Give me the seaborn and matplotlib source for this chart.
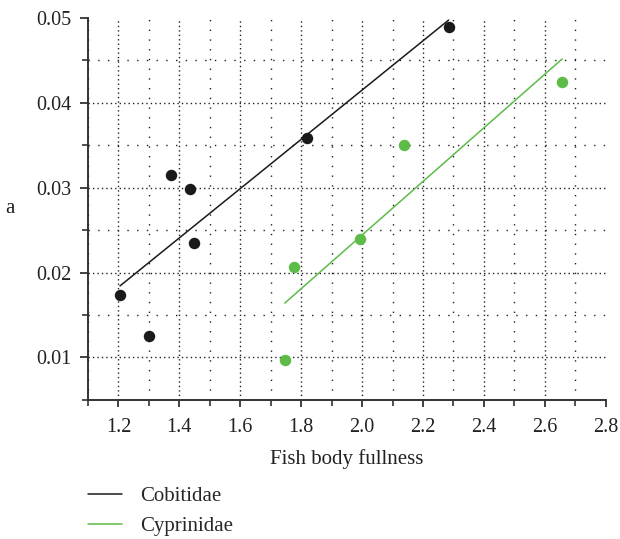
import pandas as pd
import numpy as np
import seaborn as sns
import matplotlib.pyplot as plt
from matplotlib.ticker import MultipleLocator
from matplotlib.lines import Line2D

# values
cobitidae_x = [1.205, 1.30, 1.372, 1.434, 1.447, 1.818, 2.284]
cobitidae_a = [0.0174, 0.0125, 0.0315, 0.0298, 0.02345, 0.0358, 0.0489]
cyprinidae_x = [1.746, 1.775, 1.992, 2.136, 2.657]
cyprinidae_a = [0.00965, 0.0207, 0.0240, 0.0350, 0.0424]

families = ['Cobitidae', 'Cyprinidae']
colors = {'Cobitidae': '#1a1a1a', 'Cyprinidae': '#5dbb47'}
x_ticks = [1.2, 1.4, 1.6, 1.8, 2.0, 2.2, 2.4, 2.6, 2.8]
y_ticks = [0.01, 0.02, 0.03, 0.04, 0.05]

df = pd.concat([
    pd.DataFrame({'fullness': cobitidae_x, 'a': cobitidae_a, 'family': 'Cobitidae'}),
    pd.DataFrame({'fullness': cyprinidae_x, 'a': cyprinidae_a, 'family': 'Cyprinidae'}),
])

sns.set_style('white')
plt.rcParams['font.family'] = ['Liberation Serif', 'DejaVu Serif']

fig = plt.figure(figsize=(6.2, 5.39), dpi=100)
ax = fig.add_axes([0.142, 0.258, 0.835, 0.709])

for fam in families:
    sub = df[df['family'] == fam]
    sns.regplot(data=sub, x='fullness', y='a', ax=ax, ci=None, truncate=True,
                color=colors[fam],
                scatter_kws={'s': 68, 'linewidths': 0, 'alpha': 1, 'zorder': 3},
                line_kws={'lw': 1.1, 'zorder': 2})

ax.set_xlim(1.1, 2.8)
ax.set_ylim(0.005, 0.05)
ax.xaxis.set_minor_locator(MultipleLocator(0.1))
ax.yaxis.set_minor_locator(MultipleLocator(0.005))
ax.set_xticks(x_ticks)
ax.set_yticks(y_ticks)
ax.set_xticklabels([f'{v:.1f}' for v in x_ticks])
ax.set_yticklabels([f'{v:.2f}' for v in y_ticks])

ax.grid(which='major', color='#222222', linestyle=(0, (1, 2.2)), lw=1.0)
ax.grid(which='minor', color='#222222', linestyle=(0, (1, 6)), lw=1.0)
ax.set_axisbelow(True)

# no grid line on the outer edges (2.8 and 0.05)
ax.xaxis.get_major_ticks()[-1].gridline.set_visible(False)
ax.yaxis.get_major_ticks()[-1].gridline.set_visible(False)

for s in ['top', 'right']:
    ax.spines[s].set_visible(False)
for s in ['left', 'bottom']:
    ax.spines[s].set_color('#333333')
    ax.spines[s].set_linewidth(1.4)

ax.tick_params(which='major', direction='out', length=6, width=1.3, color='#333333',
               labelsize=14.5, labelcolor='#222222', left=True, bottom=True, pad=6)
ax.tick_params(axis='x', which='major', length=5, pad=8)
ax.tick_params(which='minor', direction='out', length=4, width=1.2, color='#333333',
               left=True, bottom=True)

ax.set_xlabel('Fish body fullness', fontsize=15, color='#222222', labelpad=9)
ax.set_ylabel('a', fontsize=15, color='#222222', rotation=0, labelpad=19, va='center')

handles = [Line2D([0], [0], color=colors[f], lw=1.1) for f in families]
fig.legend(handles, families, loc='upper left', bbox_to_anchor=(0.142, 0.097),
           frameon=False, fontsize=15, handlelength=1.65, handletextpad=0.85,
           labelspacing=0.5, borderaxespad=0, borderpad=0)

fig.savefig('out.png', dpi=100)
